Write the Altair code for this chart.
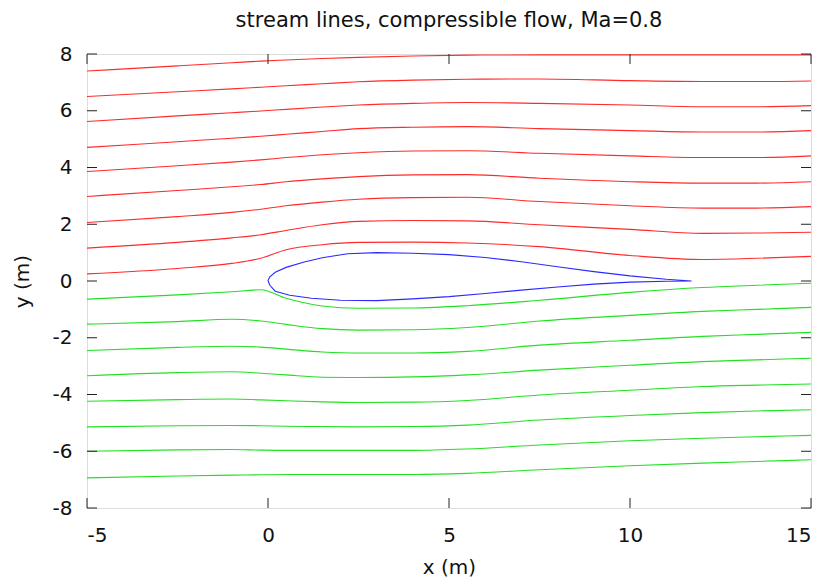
import altair as alt
import pandas as pd

TITLE = "stream lines, compressible flow, Ma=0.8"
X_LABEL = "x (m)"
Y_LABEL = "y (m)"
X_TICKS = [-5, 0, 5, 10, 15]
Y_TICKS = [-8, -6, -4, -2, 0, 2, 4, 6, 8]

# common x positions of the streamline samples
X_GRID = [-5, -2.5, -1, -0.2, 0.5, 1.5, 2.5, 4, 5.5, 7.5, 10, 12, 13.5, 15]

# streamlines above the airfoil (red)
RED_1 = [7.40, 7.58, 7.69, 7.75, 7.79, 7.84, 7.88, 7.93, 7.96, 7.97, 7.97, 7.97, 7.97, 7.97]
RED_2 = [6.50, 6.67, 6.77, 6.83, 6.88, 6.95, 7.02, 7.08, 7.11, 7.12, 7.06, 7.03, 7.03, 7.05]
RED_3 = [5.62, 5.82, 5.93, 5.99, 6.05, 6.13, 6.20, 6.26, 6.29, 6.26, 6.20, 6.14, 6.14, 6.18]
RED_4 = [4.71, 4.91, 5.03, 5.10, 5.17, 5.27, 5.37, 5.42, 5.44, 5.37, 5.30, 5.25, 5.25, 5.30]
RED_5 = [3.86, 4.06, 4.19, 4.27, 4.35, 4.45, 4.52, 4.58, 4.59, 4.50, 4.41, 4.35, 4.35, 4.41]
RED_6 = [2.98, 3.19, 3.32, 3.40, 3.50, 3.60, 3.68, 3.74, 3.75, 3.62, 3.50, 3.45, 3.45, 3.50]
RED_7 = [2.06, 2.27, 2.42, 2.53, 2.65, 2.78, 2.88, 2.94, 2.95, 2.80, 2.65, 2.57, 2.57, 2.62]
RED_8 = [1.16, 1.36, 1.52, 1.63, 1.78, 1.98, 2.10, 2.13, 2.12, 1.98, 1.82, 1.68, 1.69, 1.72]
RED_9 = [0.25, 0.44, 0.62, 0.80, 1.10, 1.28, 1.36, 1.37, 1.34, 1.21, 0.90, 0.76, 0.80, 0.87]

# streamlines below the airfoil (green)
GREEN_1 = [-0.64, -0.49, -0.38, -0.31, -0.61, -0.88, -0.96, -0.95, -0.87, -0.68, -0.40, -0.23, -0.15, -0.08]
GREEN_2 = [-1.52, -1.43, -1.35, -1.41, -1.53, -1.68, -1.73, -1.72, -1.64, -1.41, -1.21, -1.07, -1.00, -0.93]
GREEN_3 = [-2.45, -2.34, -2.30, -2.33, -2.40, -2.50, -2.54, -2.54, -2.48, -2.26, -2.09, -1.95, -1.88, -1.81]
GREEN_4 = [-3.34, -3.23, -3.20, -3.25, -3.31, -3.39, -3.40, -3.38, -3.31, -3.14, -2.97, -2.84, -2.78, -2.72]
GREEN_5 = [-4.24, -4.18, -4.16, -4.19, -4.22, -4.26, -4.28, -4.27, -4.21, -4.02, -3.85, -3.72, -3.67, -3.63]
GREEN_6 = [-5.14, -5.10, -5.09, -5.10, -5.12, -5.13, -5.14, -5.13, -5.08, -4.90, -4.74, -4.64, -4.58, -4.54]
GREEN_7 = [-6.00, -5.95, -5.94, -5.96, -5.97, -5.97, -5.97, -5.97, -5.92, -5.78, -5.63, -5.54, -5.49, -5.44]
GREEN_8 = [-6.94, -6.87, -6.84, -6.83, -6.82, -6.82, -6.82, -6.82, -6.78, -6.65, -6.51, -6.42, -6.36, -6.30]

# airfoil contour (blue), traced from trailing edge over the top and back underneath
FOIL_X = [11.7, 11.0, 10.0, 9.0, 8.0, 7.0, 6.0, 5.0, 4.0, 3.0, 2.2, 1.5, 1.0, 0.5, 0.2, 0.05, 0.0,
          0.05, 0.2, 0.6, 1.2, 2.0, 3.0, 4.0, 5.0, 6.0, 7.0, 8.0, 9.0, 10.0, 11.0, 11.7]
FOIL_Y = [0.0, 0.06, 0.18, 0.33, 0.50, 0.68, 0.83, 0.93, 0.98, 1.00, 0.96, 0.82, 0.67, 0.48, 0.31, 0.15, 0.02,
          -0.15, -0.36, -0.50, -0.61, -0.68, -0.69, -0.63, -0.55, -0.44, -0.32, -0.21, -0.11, -0.04, -0.01, 0.0]

W, H = 724, 454
FONT = "DejaVu Sans"

red_lines = [RED_1, RED_2, RED_3, RED_4, RED_5, RED_6, RED_7, RED_8, RED_9]
green_lines = [GREEN_1, GREEN_2, GREEN_3, GREEN_4, GREEN_5, GREEN_6, GREEN_7, GREEN_8]

rows = []
for i, ys in enumerate(red_lines):
    for x, y in zip(X_GRID, ys):
        rows.append({"x": x, "y": y, "line": f"r{i}", "kind": "above"})
for i, ys in enumerate(green_lines):
    for x, y in zip(X_GRID, ys):
        rows.append({"x": x, "y": y, "line": f"g{i}", "kind": "below"})
stream_df = pd.DataFrame(rows)

foil_df = pd.DataFrame({"x": FOIL_X, "y": FOIL_Y, "i": list(range(len(FOIL_X))), "kind": "foil"})

xscale = alt.Scale(domain=[-5, 15], nice=False, zero=False)
yscale = alt.Scale(domain=[-8, 8], nice=False, zero=False)
cscale = alt.Scale(domain=["above", "below", "foil"], range=["#ff2a2a", "#22e022", "#2a2aff"])

x_axis = alt.Axis(values=X_TICKS, grid=False, ticks=False, tickSize=0, domain=False,
                  labelExpr="'' + datum.value", labelFont=FONT, labelFontSize=20,
                  labelColor="#111111", labelPadding=17, title=X_LABEL, titleFont=FONT,
                  titleFontSize=20, titleFontWeight="normal", titleColor="#111111", titlePadding=12)
y_axis = alt.Axis(values=Y_TICKS, grid=False, ticks=False, tickSize=0, domain=False,
                  labelExpr="'' + datum.value", labelFont=FONT, labelFontSize=20,
                  labelColor="#111111", labelPadding=15, title=Y_LABEL, titleFont=FONT,
                  titleFontSize=20, titleFontWeight="normal", titleColor="#111111", titlePadding=20)

streams = alt.Chart(stream_df).mark_line(interpolate="monotone", strokeWidth=1.1, clip=True).encode(
    x=alt.X("x:Q", scale=xscale, axis=x_axis),
    y=alt.Y("y:Q", scale=yscale, axis=y_axis),
    detail="line:N",
    color=alt.Color("kind:N", scale=cscale, legend=None),
)

foil = alt.Chart(foil_df).mark_line(interpolate="linear", strokeWidth=1.1).encode(
    x=alt.X("x:Q", scale=xscale),
    y=alt.Y("y:Q", scale=yscale),
    order="i:Q",
    color=alt.Color("kind:N", scale=cscale, legend=None),
)

xt = pd.DataFrame({"v": X_TICKS})
yt = pd.DataFrame({"v": Y_TICKS})
TL = 10
tick_color = "#222222"
xt_bottom = alt.Chart(xt).mark_rule(color=tick_color, strokeWidth=1).encode(
    x=alt.X("v:Q", scale=xscale), y=alt.value(H - TL), y2=alt.value(H))
xt_top = alt.Chart(xt).mark_rule(color=tick_color, strokeWidth=1).encode(
    x=alt.X("v:Q", scale=xscale), y=alt.value(0), y2=alt.value(TL))
yt_left = alt.Chart(yt).mark_rule(color=tick_color, strokeWidth=1).encode(
    y=alt.Y("v:Q", scale=yscale), x=alt.value(0), x2=alt.value(TL))
yt_right = alt.Chart(yt).mark_rule(color=tick_color, strokeWidth=1).encode(
    y=alt.Y("v:Q", scale=yscale), x=alt.value(W - TL), x2=alt.value(W))

chart = alt.layer(streams, foil, xt_bottom, xt_top, yt_left, yt_right).properties(
    width=W, height=H,
    title=alt.TitleParams(TITLE, font=FONT, fontSize=21, fontWeight="normal",
                          color="#111111", anchor="middle", offset=13),
    autosize=alt.AutoSizeParams(type="none"),
    padding={"left": 79, "top": 46, "right": 9, "bottom": 69},
).configure_view(stroke="#222222", strokeWidth=1.2).configure(background="white")

chart.save("out.html", embed_options={"renderer": "svg", "actions": False})
